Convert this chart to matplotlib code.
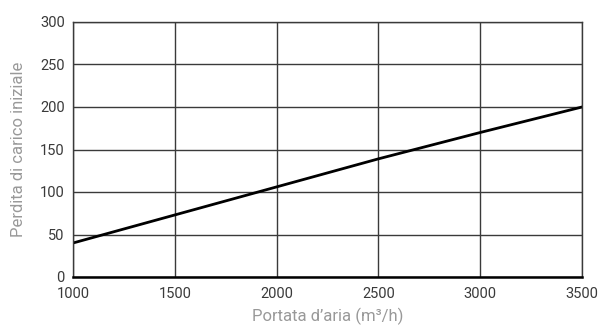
import matplotlib.pyplot as plt
from matplotlib import font_manager

# ------------------------------
# Data
# ------------------------------
airflow = [1000, 1500, 2000, 2500, 3000, 3500]
pressure_drop = [40, 73, 106, 139, 170, 200]
x_ticks = [1000, 1500, 2000, 2500, 3000, 3500]
y_ticks = [0, 50, 100, 150, 200, 250, 300]

names = {f.name for f in font_manager.fontManager.ttflist}
family = "Liberation Sans Narrow" if "Liberation Sans Narrow" in names else "Roboto"
plt.rcParams["font.family"] = [family, "DejaVu Sans"]

fig = plt.figure(figsize=(6, 3.27), dpi=100)
ax = fig.add_axes([73 / 600, 1 - 277 / 327, 509 / 600, 255 / 327])

ax.plot(airflow, pressure_drop, color="black", linewidth=2)

ax.set_xlim(1000, 3500)
ax.set_ylim(0, 300)
ax.set_xticks(x_ticks)
ax.set_yticks(y_ticks)
ax.grid(True, color="#3a3a3a", linewidth=1)
ax.set_axisbelow(True)
ax.tick_params(axis="x", length=0, labelsize=10.5, labelcolor="#3a3a3a", pad=7)
ax.tick_params(axis="y", length=0, labelsize=10.5, labelcolor="#3a3a3a", pad=6)

for side in ["top", "right", "left"]:
    ax.spines[side].set_color("#3a3a3a")
    ax.spines[side].set_linewidth(1)
ax.spines["bottom"].set_color("black")
ax.spines["bottom"].set_linewidth(1.8)

ax.set_xlabel("Portata d\u2019aria (m\u00b3/h)", fontsize=12, color="#999999", labelpad=5)
ax.set_ylabel("Perdita di carico iniziale", fontsize=12, color="#999999", labelpad=10)

fig.savefig("out.png", dpi=100)
